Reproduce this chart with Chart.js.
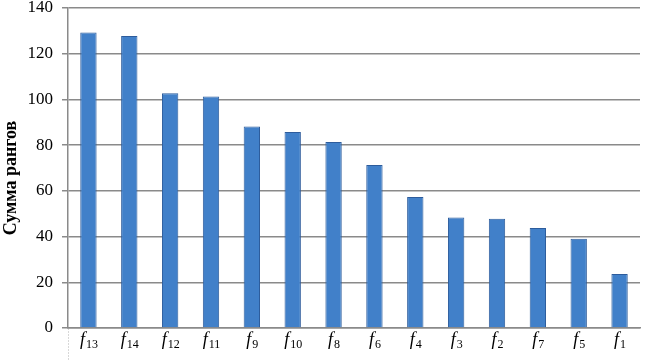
<!DOCTYPE html>
<html>
<head>
<meta charset="utf-8">
<script src="https://cdn.jsdelivr.net/npm/chart.js@4/dist/chart.umd.min.js"></script>
<style>
  html, body { margin: 0; padding: 0; background: #fff; }
  #wrap { width: 648px; height: 361px; }
</style>
</head>
<body>
<div id="wrap"><canvas id="rankChart" width="648" height="361"></canvas></div>
<script>
// factor names (letter + subscript index) and summed ranks
var factorIdx = ["13", "14", "12", "11", "9", "10", "8", "6", "4", "3", "2", "7", "5", "1"];
var rankSums  = [129.3, 127.7, 102.7, 101.3, 88.2, 85.8, 81.4, 71.3, 57.3, 48.3, 47.8, 43.8, 39, 23.6];
var yTicks    = [0, 20, 40, 60, 80, 100, 120, 140];
var yTitle    = "Сумма рангов";

var serif = "'Liberation Serif', 'Times New Roman', serif";
var gridGrey = "#8a8a8a";

// draws "f" in italic with a plain subscript number under each bar,
// and the rotated y axis title
var extraText = {
  id: "extraText",
  afterDraw: function(chart) {
    var ctx = chart.ctx;
    var xs = chart.scales.x;
    ctx.save();
    ctx.fillStyle = "#000";
    ctx.textBaseline = "alphabetic";
    factorIdx.forEach(function(sub, i) {
      var cx = xs.getPixelForValue(i);
      ctx.font = "italic 18px " + serif;
      var wf = ctx.measureText("f").width;
      ctx.font = "12px " + serif;
      var ws = ctx.measureText(sub).width;
      var x0 = cx - (wf + ws) / 2;
      ctx.font = "italic 18px " + serif;
      ctx.textAlign = "left";
      ctx.fillText("f", x0, 345);
      ctx.font = "12px " + serif;
      ctx.fillText(sub, x0 + wf + 1, 348);
    });

    ctx.translate(11, 178);
    ctx.rotate(-Math.PI / 2);
    ctx.font = "bold 18px " + serif;
    ctx.textAlign = "center";
    ctx.textBaseline = "middle";
    ctx.fillText(yTitle, 0, 0);
    ctx.restore();
  }
};

new Chart(document.getElementById("rankChart"), {
  type: "bar",
  data: {
    labels: factorIdx.map(function(s) { return "f" + s; }),
    datasets: [{
      label: yTitle,
      data: rankSums,
      backgroundColor: "#4180c9",
      borderColor: "#2d5c9c",
      borderWidth: 1,
      categoryPercentage: 1,
      barPercentage: 0.4
    }]
  },
  options: {
    responsive: false,
    animation: false,
    layout: { padding: { left: 0, right: 8, top: 8, bottom: 0 } },
    plugins: {
      legend: { display: false },
      tooltip: { enabled: false }
    },
    scales: {
      x: {
        offset: true,
        grid: {
          drawOnChartArea: false,
          tickLength: 33,
          color: function(c) { return c.index === 0 ? "#b0b0b0" : "rgba(0,0,0,0)"; },
          tickBorderDash: [1, 2]
        },
        border: { color: gridGrey, width: 1.5 },
        ticks: { color: "rgba(0,0,0,0)", font: { size: 12 } },
        afterFit: function(s) {
          s.height = 33;
          s.paddingLeft = 0;
          s.paddingRight = 0;
        }
      },
      y: {
        min: 0,
        max: 140,
        afterBuildTicks: function(s) {
          s.ticks = yTicks.map(function(v) { return { value: v }; });
        },
        grid: { color: gridGrey, lineWidth: 1.5, tickLength: 6 },
        border: { color: gridGrey, width: 1.5 },
        ticks: {
          color: "#000",
          padding: 9,
          font: { family: serif, size: 17 }
        },
        afterFit: function(s) {
          s.width = 68;
          s.paddingTop = 0;
          s.paddingBottom = 0;
        }
      }
    }
  },
  plugins: [extraText]
});
</script>
</body>
</html>
